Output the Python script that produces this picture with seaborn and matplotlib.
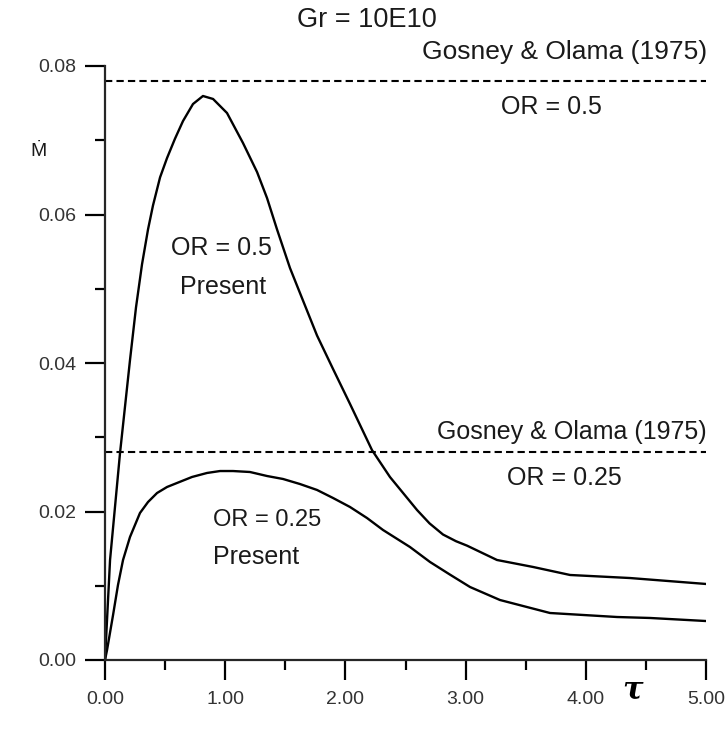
import matplotlib
matplotlib.use("Agg")
import matplotlib.pyplot as plt
import seaborn as sns
from matplotlib.ticker import MultipleLocator, FormatStrFormatter

sns.set_style("ticks")
plt.rcParams['font.family'] = ['Liberation Sans', 'DejaVu Sans']

# Present results, OR = 0.5
tau_or05 = [0, 0.042, 0.125, 0.208, 0.258, 0.308, 0.358, 0.399, 0.458, 0.516,
            0.582, 0.649, 0.732, 0.815, 0.899, 1.015, 1.148, 1.265, 1.348,
            1.431, 1.539, 1.622, 1.764, 1.897, 2.038, 2.221, 2.371, 2.596,
            2.70, 2.812, 2.92, 3.012, 3.261, 3.561, 3.869, 4.368, 5.0]
m_or05 = [0, 0.01347, 0.02788, 0.04040, 0.04750, 0.05330, 0.05800, 0.06120,
          0.06500, 0.06760, 0.07020, 0.07259, 0.07488, 0.07596, 0.07556,
          0.07367, 0.06963, 0.06572, 0.06222, 0.05800, 0.05279, 0.04943,
          0.04370, 0.03920, 0.03450, 0.02828, 0.02464, 0.02020, 0.01840,
          0.01690, 0.01600, 0.01540, 0.01347, 0.01253, 0.01145, 0.01104,
          0.01024]

# Present results, OR = 0.25
tau_or025 = [0, 0.017, 0.067, 0.108, 0.150, 0.208, 0.291, 0.358, 0.433, 0.516,
             0.599, 0.724, 0.849, 0.957, 1.065, 1.206, 1.348, 1.481, 1.622,
             1.764, 1.897, 2.038, 2.180, 2.313, 2.537, 2.704, 2.870, 3.037,
             3.286, 3.702, 4.260, 4.534, 5.0]
m_or025 = [0, 0.00135, 0.00606, 0.01010, 0.01347, 0.01657, 0.01980, 0.02128,
           0.02249, 0.02330, 0.02384, 0.02465, 0.02519, 0.02545, 0.02545,
           0.02532, 0.02478, 0.02438, 0.02370, 0.02290, 0.02182, 0.02061,
           0.01912, 0.01751, 0.01522, 0.01320, 0.01150, 0.00983, 0.00808,
           0.00633, 0.00579, 0.00566, 0.00525]

# Gosney & Olama (1975) reference levels
gosney_or05 = 0.078
gosney_or025 = 0.028

x_ticks = [0, 1, 2, 3, 4, 5]
y_ticks = [0.00, 0.02, 0.04, 0.06, 0.08]

fig = plt.figure(figsize=(7.26, 7.30), dpi=100)
ax = fig.add_axes([105 / 726, 70 / 730, 601 / 726, 594 / 730])

line_kw = dict(color='black', lw=1.7, estimator=None, sort=False,
               solid_joinstyle='round')
sns.lineplot(x=tau_or05, y=m_or05, ax=ax, **line_kw)
sns.lineplot(x=tau_or025, y=m_or025, ax=ax, **line_kw)
for lvl in (gosney_or05, gosney_or025):
    sns.lineplot(x=[0, 5], y=[lvl, lvl], ax=ax, color='black', lw=1.5,
                 linestyle=(0, (3.5, 2)), estimator=None)

ax.set_xlim(0, 5)
ax.set_ylim(0, 0.08)
ax.set_xticks(x_ticks)
ax.set_yticks(y_ticks)
ax.xaxis.set_minor_locator(MultipleLocator(0.5))
ax.yaxis.set_minor_locator(MultipleLocator(0.01))
ax.xaxis.set_major_formatter(FormatStrFormatter('%.2f'))
ax.yaxis.set_major_formatter(FormatStrFormatter('%.2f'))
ax.set_xlabel('')
ax.set_ylabel('')

for side in ('top', 'right'):
    ax.spines[side].set_visible(False)
for side in ('left', 'bottom'):
    ax.spines[side].set_linewidth(1.6)

ax.tick_params(which='major', direction='out', length=14.5, width=1.6,
               labelsize=14, labelcolor='#333333', color='black')
ax.tick_params(which='minor', direction='out', length=7.2, width=1.6,
               color='black')
ax.tick_params(axis='y', which='major', pad=6)
ax.tick_params(axis='x', which='major', pad=8)

txt = dict(color='#1a1a1a', fontsize=18, va='center')
ax.text(3.82, 0.0819, 'Gosney & Olama (1975)', ha='center',
        **{**txt, 'fontsize': 19})
ax.text(3.71, 0.0745, 'OR = 0.5', ha='center', **txt)
ax.text(3.88, 0.0307, 'Gosney & Olama (1975)', ha='center', **txt)
ax.text(3.82, 0.0245, 'OR = 0.25', ha='center', **txt)
ax.text(0.965, 0.0555, 'OR = 0.5', ha='center', **txt)
ax.text(0.98, 0.0503, 'Present', ha='center', **txt)
ax.text(0.90, 0.0189, 'OR = 0.25', ha='left', **{**txt, 'fontsize': 17})
ax.text(0.90, 0.0139, 'Present', ha='left', **txt)

fig.text(367 / 726, 1 - 20 / 730, 'Gr = 10E10', ha='center', va='center',
         fontsize=19.5, color='#1a1a1a')
fig.text(38 / 726, 1 - 152 / 730, '\u1E40', ha='center', va='center',
         fontsize=14, color='#1a1a1a')
fig.text(632 / 726, 1 - 690 / 730, '\u03C4', ha='center', va='center',
         fontsize=22, fontweight='bold', style='italic',
         family=['DejaVu Serif'], color='black')

fig.savefig('out.png', dpi=100, facecolor='white')
